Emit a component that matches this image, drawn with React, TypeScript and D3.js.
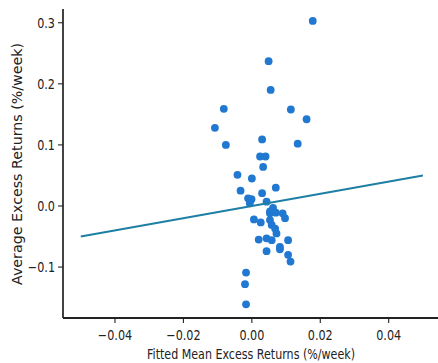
import * as React from "react";
import * as d3 from "d3";

// fitted mean excess returns (x) vs average excess returns (y), %/week
const fittedX = [
  0.0178, 0.0049, 0.0055, -0.0082, 0.0114, 0.016, -0.0108, -0.0076, 0.003, 0.0134,
  0.0024, 0.004, 0.0033, -0.0042, 0.0, 0.007, -0.0033, 0.003, -0.0011, -0.0001,
  -0.0006, 0.0043, 0.0053, 0.0053, 0.007, 0.009, 0.0006, 0.0026, 0.0097, 0.0053,
  0.0058, 0.0068, 0.0072, 0.002, 0.0043, 0.0058, 0.0106, 0.0082, 0.0043, 0.0082,
  0.0106, 0.0113, -0.0017, -0.002, -0.0017, 0.0062,
];
const averageY = [
  0.303, 0.237, 0.19, 0.159, 0.158, 0.142, 0.128, 0.1, 0.109, 0.102,
  0.081, 0.081, 0.064, 0.051, 0.045, 0.03, 0.025, 0.021, 0.0126, 0.011,
  0.0044, 0.007, -0.009, -0.012, -0.011, -0.012, -0.022, -0.027, -0.02, -0.023,
  -0.031, -0.037, -0.045, -0.055, -0.053, -0.056, -0.056, -0.067, -0.074, -0.071,
  -0.08, -0.091, -0.109, -0.128, -0.161, -0.003,
];

// 45-degree reference line
const lineX = [-0.05, 0.05];
const lineY = [-0.05, 0.05];

const xTicks = [-0.04, -0.02, 0, 0.02, 0.04];
const yTicks = [-0.1, 0, 0.1, 0.2, 0.3];

const W = 438;
const H = 363;
const FONT = "'DejaVu Sans', sans-serif";
const INK = "#222";
const SQUEEZE = 0.8; // the source image is compressed horizontally

const fmt = (d: number, p: number) => d.toFixed(p).replace("-", "\u2212");

export default function App() {
  const x = d3.scaleLinear().domain([-0.0552, 0.0552]).range([63, 440.7]);
  const y = d3.scaleLinear().domain([-0.1834, 0.3225]).range([318, 9]);

  const pts = fittedX.map((v, i) => ({ x: v, y: averageY[i] }));
  const line = d3
    .line<number>()
    .x((d) => x(d))
    .y((_, i) => y(lineY[i]));

  const x0 = x.range()[0];
  const y0 = y.range()[0];

  return (
    <svg
      width={W}
      height={H}
      style={{ position: "absolute", left: 0, top: 0, background: "#fff" }}
    >
      {/* points */}
      {pts.map((p, i) => (
        <circle key={i} cx={x(p.x)} cy={y(p.y)} r={3.9} fill="#2178d1" />
      ))}

      {/* fitted line */}
      <path d={line(lineX) ?? ""} fill="none" stroke="#1d7fa4" strokeWidth={1.9} />

      {/* spines */}
      <line x1={x0} x2={x0} y1={y.range()[1]} y2={y0} stroke={INK} strokeWidth={1.7} />
      <line x1={x0} x2={W} y1={y0} y2={y0} stroke={INK} strokeWidth={2} />

      {/* y ticks */}
      {yTicks.map((t) => (
        <g key={`y${t}`}>
          <line x1={x0 - 5} x2={x0} y1={y(t)} y2={y(t)} stroke={INK} strokeWidth={1.1} />
          <text
            transform={`translate(${x0 - 8},${y(t)}) scale(${SQUEEZE},1)`}
            dy="0.36em"
            textAnchor="end"
            fontFamily={FONT}
            fontSize={14}
            fill={INK}
          >
            {fmt(t, 1)}
          </text>
        </g>
      ))}

      {/* x ticks */}
      {xTicks.map((t) => (
        <g key={`x${t}`}>
          <line x1={x(t)} x2={x(t)} y1={y0} y2={y0 + 5} stroke={INK} strokeWidth={1.1} />
          <text
            transform={`translate(${x(t)},${y0 + 22}) scale(${SQUEEZE},1)`}
            textAnchor="middle"
            fontFamily={FONT}
            fontSize={14}
            fill={INK}
          >
            {fmt(t, 2)}
          </text>
        </g>
      ))}

      {/* axis labels */}
      <text
        x={251}
        y={359}
        textAnchor="middle"
        fontFamily={FONT}
        fontSize={13.5}
        fill={INK}
        textLength={208}
        lengthAdjust="spacingAndGlyphs"
      >
        Fitted Mean Excess Returns (%/week)
      </text>
      <text
        transform={`translate(22,164) rotate(-90)`}
        textAnchor="middle"
        fontFamily={FONT}
        fontSize={13.5}
        fill={INK}
        textLength={242}
        lengthAdjust="spacingAndGlyphs"
      >
        Average Excess Returns (%/week)
      </text>
    </svg>
  );
}
